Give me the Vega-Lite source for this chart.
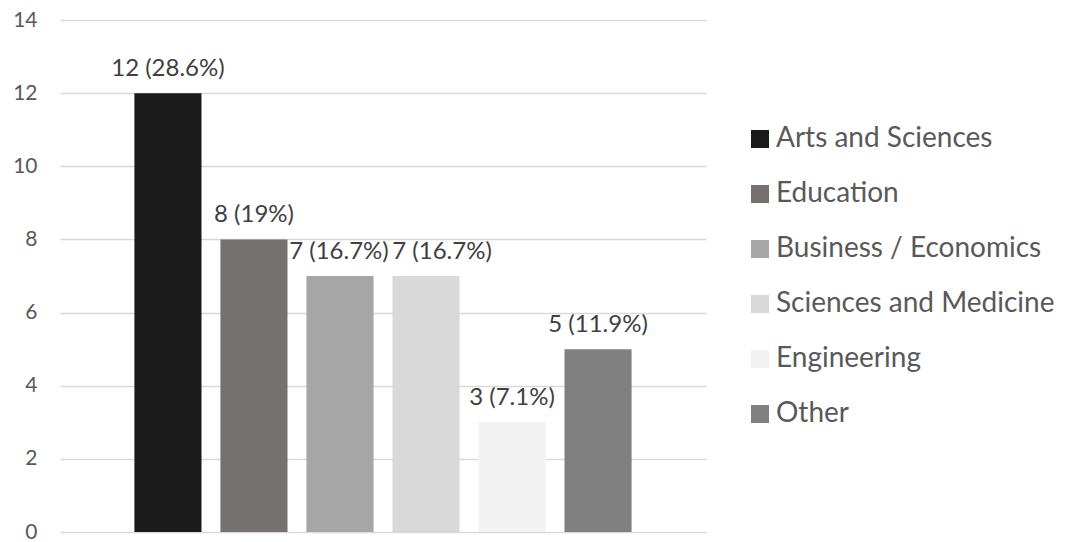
{
  "$schema": "https://vega.github.io/schema/vega-lite/v6.json",
  "width": 646,
  "height": 512,
  "autosize": {"type": "none"},
  "padding": {"left": 60, "top": 20, "right": 364, "bottom": 10},
  "background": "white",
  "config": {
    "view": {"stroke": null},
    "font": "Lato"
  },
  "data": {
    "values": [
      {"field": "Arts and Sciences", "count": 12, "label": "12 (28.6%)"},
      {"field": "Education", "count": 8, "label": "8 (19%)"},
      {"field": "Business / Economics", "count": 7, "label": "7 (16.7%)"},
      {"field": "Sciences and Medicine", "count": 7, "label": "7 (16.7%)"},
      {"field": "Engineering", "count": 3, "label": "3 (7.1%)"},
      {"field": "Other", "count": 5, "label": "5 (11.9%)"}
    ]
  },
  "encoding": {
    "x": {
      "field": "field",
      "type": "nominal",
      "sort": null,
      "axis": null,
      "scale": {"paddingInner": 0.22, "paddingOuter": 0.865}
    },
    "y": {
      "field": "count",
      "type": "quantitative",
      "scale": {"domain": [0, 14], "nice": false},
      "axis": {
        "title": null,
        "values": [0, 2, 4, 6, 8, 10, 12, 14],
        "domain": false,
        "ticks": false,
        "labelPadding": 23,
        "labelFontSize": 21,
        "labelColor": "#595959",
        "labelFont": "Lato",
        "gridColor": "#d9d9d9",
        "gridWidth": 1.5
      }
    }
  },
  "layer": [
    {
      "mark": {"type": "bar"},
      "encoding": {
        "color": {
          "field": "field",
          "type": "nominal",
          "sort": null,
          "scale": {
            "domain": ["Arts and Sciences", "Education", "Business / Economics", "Sciences and Medicine", "Engineering", "Other"],
            "range": ["#1a1a1a", "#767171", "#a6a6a6", "#d9d9d9", "#f2f2f2", "#808080"]
          },
          "legend": {
            "title": null,
            "orient": "none",
            "legendX": 686,
            "legendY": 105,
            "padding": 0,
            "symbolType": "square",
            "symbolSize": 324,
            "symbolStrokeWidth": 0,
            "labelFontSize": 28,
            "labelFont": "Lato",
            "labelColor": "#595959",
            "labelOffset": 2,
            "labelLimit": 400,
            "rowPadding": 27
          }
        }
      }
    },
    {
      "transform": [{"filter": "datum.field !== 'Sciences and Medicine' && datum.field !== 'Business / Economics'"}],
      "mark": {
        "type": "text",
        "baseline": "alphabetic",
        "dy": -17,
        "fontSize": 24,
        "font": "Lato",
        "color": "#404040"
      },
      "encoding": {
        "text": {"field": "label", "type": "nominal"}
      }
    },
    {
      "transform": [{"filter": "datum.field === 'Business / Economics'"}],
      "mark": {
        "type": "text",
        "baseline": "alphabetic",
        "dy": -17,
        "dx": -1,
        "fontSize": 24,
        "font": "Lato",
        "color": "#404040"
      },
      "encoding": {
        "text": {"field": "label", "type": "nominal"}
      }
    },
    {
      "transform": [{"filter": "datum.field === 'Sciences and Medicine'"}],
      "mark": {
        "type": "text",
        "baseline": "alphabetic",
        "dy": -17,
        "dx": 16,
        "fontSize": 24,
        "font": "Lato",
        "color": "#404040"
      },
      "encoding": {
        "text": {"field": "label", "type": "nominal"}
      }
    }
  ]
}
